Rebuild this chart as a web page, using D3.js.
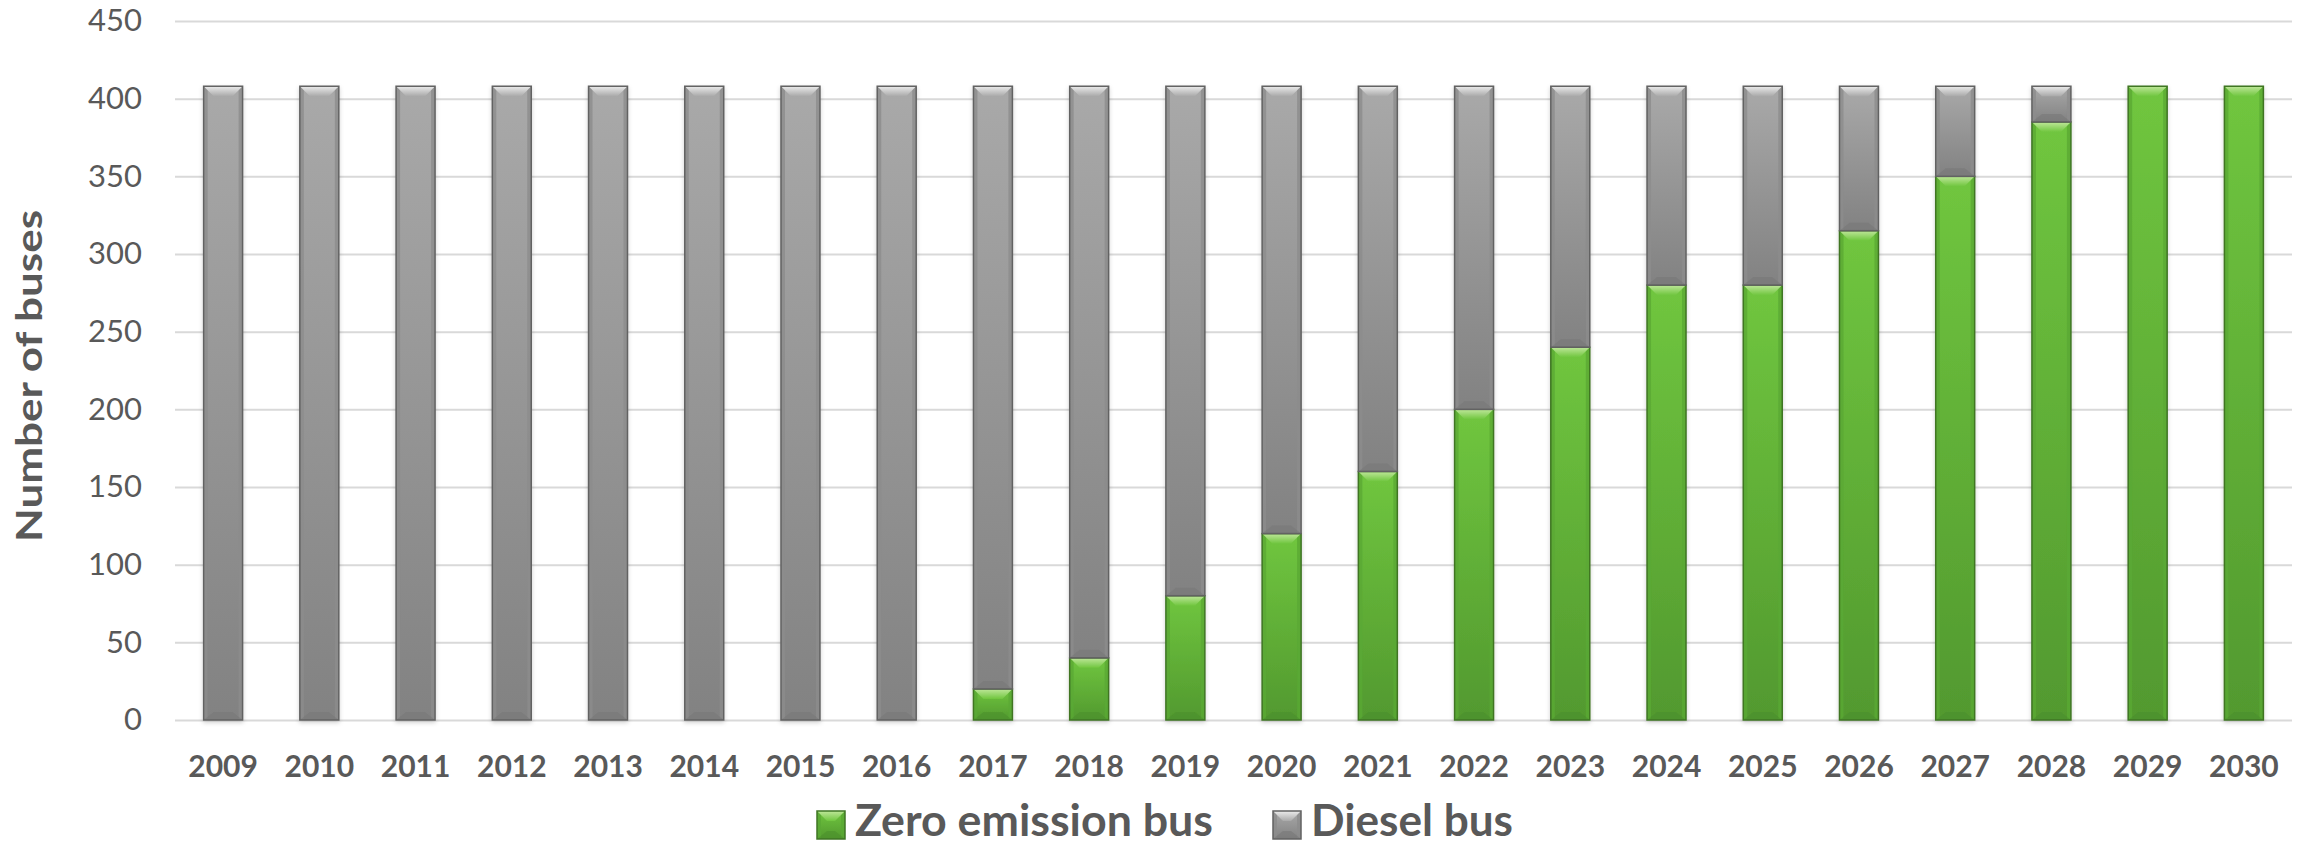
<!DOCTYPE html>
<html>
<head>
<meta charset="utf-8">
<script src="https://cdn.jsdelivr.net/npm/d3@7"></script>
<style>
  body { margin: 0; background: #fff; }
  svg { display: block; font-family: Lato, "Open Sans", sans-serif; }
</style>
</head>
<body>
<script>
// chart data
const years = ["2009", "2010", "2011", "2012", "2013", "2014", "2015", "2016", "2017", "2018", "2019",
               "2020", "2021", "2022", "2023", "2024", "2025", "2026", "2027", "2028", "2029", "2030"];
const zeroEmission = [0, 0, 0, 0, 0, 0, 0, 0, 20, 40, 80, 120, 160, 200, 240, 280, 280, 315, 350, 385, 408, 408];
const diesel = [408, 408, 408, 408, 408, 408, 408, 408, 388, 368, 328, 288, 248, 208, 168, 128, 128, 93, 58, 23, 0, 0];
const yTicks = [0, 50, 100, 150, 200, 250, 300, 350, 400, 450];
const seriesNames = ["Zero emission bus", "Diesel bus"];

const width = 2310;
const height = 845;
const margin = { left: 175, right: 18, top: 21, bottom: 125 };
const plotW = width - margin.left - margin.right;
const plotH = height - margin.top - margin.bottom;

const svg = d3.select("body").append("svg")
    .attr("width", width)
    .attr("height", height);

// gradients for the two series
const defs = svg.append("defs");
const styles = {
    zero: { top: "#70c63f", bottom: "#52992f", stroke: "#3f7524", hi: "#bfe79a", lo: "#4a8e2b", side: "#5aa934" },
    diesel: { top: "#a9a9a9", bottom: "#828282", stroke: "#626262", hi: "#ececec", lo: "#777777", side: "#8c8c8c" }
};
Object.entries(styles).forEach(([key, s]) => {
    const g = defs.append("linearGradient").attr("id", "grad-" + key)
        .attr("x1", 0).attr("y1", 0).attr("x2", 0).attr("y2", 1);
    g.append("stop").attr("offset", "0%").attr("stop-color", s.top);
    g.append("stop").attr("offset", "100%").attr("stop-color", s.bottom);
    const h = defs.append("linearGradient").attr("id", "hi-" + key)
        .attr("x1", 0).attr("y1", 0).attr("x2", 0).attr("y2", 1);
    h.append("stop").attr("offset", "0%").attr("stop-color", s.hi);
    h.append("stop").attr("offset", "100%").attr("stop-color", s.top);
});
const shadow = defs.append("filter").attr("id", "shadow")
    .attr("x", "-20%").attr("y", "-5%").attr("width", "140%").attr("height", "115%");
shadow.append("feDropShadow").attr("dx", 0).attr("dy", 2).attr("stdDeviation", 2)
    .attr("flood-color", "#000").attr("flood-opacity", 0.18);

const chart = svg.append("g").attr("transform", `translate(${margin.left},${margin.top})`);

const x = d3.scaleBand()
    .domain(years)
    .range([0, plotW])
    .paddingInner(0.595)
    .paddingOuter(0.2975);

const y = d3.scaleLinear()
    .domain([0, 450])
    .range([plotH, 0]);

// y axis with gridlines
const yAxis = chart.append("g")
    .call(d3.axisLeft(y).tickValues(yTicks).tickSize(-plotW).tickPadding(33));
yAxis.select(".domain").remove();
yAxis.selectAll(".tick line").attr("stroke", "#d9d9d9").attr("stroke-width", 2);
yAxis.selectAll(".tick text")
    .attr("fill", "#595959")
    .style("font-size", "31px")
    .style("font-family", "Lato, 'Open Sans', sans-serif");

// x axis labels
const xAxis = chart.append("g")
    .attr("transform", `translate(0,${plotH})`)
    .call(d3.axisBottom(x).tickSize(0));
xAxis.select(".domain").remove();
xAxis.selectAll(".tick text")
    .attr("y", 57)
    .attr("dy", 0)
    .attr("fill", "#595959")
    .style("font-size", "30px")
    .style("font-weight", "bold")
    .style("font-family", "Lato, 'Open Sans', sans-serif");

// stacked segments
const rows = years.map((yr, i) => ({ year: yr, zero: zeroEmission[i], diesel: diesel[i] }));
const stack = d3.stack().keys(["zero", "diesel"])(rows);

function drawBevelBar(g, key, x0, y0, w, h) {
    const s = styles[key];
    const d = Math.min(10, h / 2.5);
    const sw = Math.min(4, w / 6);
    g.append("rect")
        .attr("x", x0).attr("y", y0).attr("width", w).attr("height", h)
        .attr("fill", `url(#grad-${key})`);
    // side edges
    g.append("rect").attr("x", x0).attr("y", y0).attr("width", sw).attr("height", h)
        .attr("fill", s.side).attr("opacity", 0.8);
    g.append("rect").attr("x", x0 + w - sw).attr("y", y0).attr("width", sw).attr("height", h)
        .attr("fill", s.side).attr("opacity", 0.8);
    // bottom shade
    g.append("path")
        .attr("d", `M${x0},${y0 + h}L${x0 + w},${y0 + h}L${x0 + w - d},${y0 + h - d * 0.8}L${x0 + d},${y0 + h - d * 0.8}Z`)
        .attr("fill", s.lo).attr("opacity", 0.55);
    // top bevel highlight
    g.append("path")
        .attr("d", `M${x0},${y0}L${x0 + w},${y0}L${x0 + w - d},${y0 + d}L${x0 + d},${y0 + d}Z`)
        .attr("fill", `url(#hi-${key})`);
    g.append("rect")
        .attr("x", x0).attr("y", y0).attr("width", w).attr("height", h)
        .attr("fill", "none")
        .attr("stroke", s.stroke)
        .attr("stroke-width", 1.5);
}

const bars = chart.append("g").attr("filter", "url(#shadow)");
stack.forEach(layer => {
    layer.forEach(seg => {
        const h = y(seg[0]) - y(seg[1]);
        if (h <= 0) return;
        drawBevelBar(bars, layer.key, x(seg.data.year), y(seg[1]), x.bandwidth(), h);
    });
});

// y axis title
svg.append("text")
    .attr("transform", "translate(42,376) rotate(-90)")
    .attr("text-anchor", "middle")
    .attr("fill", "#595959")
    .attr("textLength", 332)
    .attr("lengthAdjust", "spacingAndGlyphs")
    .style("font-size", "36px")
    .style("font-weight", "bold")
    .text("Number of buses");

// legend
const legendItems = [
    { name: seriesNames[0], key: "zero", sx: 817, tx: 855, len: 358 },
    { name: seriesNames[1], key: "diesel", sx: 1273, tx: 1311, len: 202 }
];
const legend = svg.append("g");
legendItems.forEach(item => {
    const g = legend.append("g");
    drawBevelBar(g, item.key, item.sx, 811, 28, 28);
    g.append("text")
        .attr("x", item.tx)
        .attr("y", 836)
        .attr("fill", "#595959")
        .attr("textLength", item.len)
        .attr("lengthAdjust", "spacingAndGlyphs")
        .style("font-size", "43px")
        .style("font-weight", "bold")
        .text(item.name);
});
</script>
</body>
</html>
